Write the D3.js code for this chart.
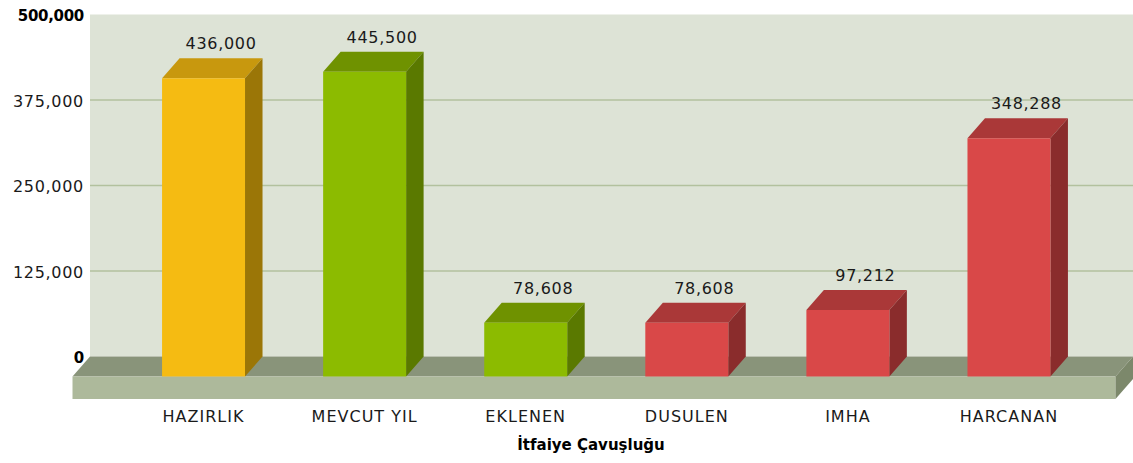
<!DOCTYPE html>
<html>
<head>
<meta charset="utf-8">
<script src="https://cdn.jsdelivr.net/npm/d3@7"></script>
<style>
  body { margin: 0; background: #fff; }
  svg { display: block; font-family: "DejaVu Sans", Verdana, sans-serif; }
</style>
</head>
<body>
<svg id="chart" width="1133" height="463"></svg>
<script>
"use strict";

// data
const categories = ["HAZIRLIK", "MEVCUT YIL", "EKLENEN", "DUSULEN", "IMHA", "HARCANAN"];
const values = [436000, 445500, 78608, 78608, 97212, 348288];
const kinds = ["gold", "green", "green", "red", "red", "red"];
const yTicks = [0, 125000, 250000, 375000, 500000];
const title = "İtfaiye Çavuşluğu";

// colours for the three faces of each bar
const palette = {
  gold:  { front: "#f5bb12", top: "#c8980e", side: "#9b7607" },
  green: { front: "#8cbb00", top: "#6f9200", side: "#5a7900" },
  red:   { front: "#d94848", top: "#aa3838", side: "#8a2c2c" }
};

const svg = d3.select("#chart");
const fmt = d3.format(",");

// depth of the 3D effect (back is up and right of the front)
const dx = 17.5, dy = 20;
const wallLeft = 90, wallRight = 1133;

const y = d3.scaleLinear().domain([0, 500000]).range([356.5, 14.5]);
const x = d3.scaleBand()
  .domain(categories)
  .range([123, 1089.5])
  .paddingInner(0.485)
  .paddingOuter(0.2425);

// back wall
svg.append("rect")
  .attr("x", wallLeft).attr("y", y(500000))
  .attr("width", wallRight - wallLeft).attr("height", y(0) - y(500000))
  .attr("fill", "#dde3d6");

// grid lines
svg.append("g")
  .selectAll("line")
  .data(yTicks.filter(d => d > 0 && d < 500000))
  .enter()
  .append("line")
  .attr("x1", wallLeft).attr("x2", wallRight)
  .attr("y1", d => y(d)).attr("y2", d => y(d))
  .attr("stroke", "#b2c19e")
  .attr("stroke-width", 1.6);

// floor
const fy0 = y(0), fy1 = y(0) + dy, floorH = 22.5;
const fl = wallLeft - dx, fr = wallRight - dx;
svg.append("path")
  .attr("d", `M${fl},${fy1}L${wallLeft},${fy0}L${wallRight},${fy0}L${fr},${fy1}Z`)
  .attr("fill", "#89947a");
svg.append("rect")
  .attr("x", fl).attr("y", fy1)
  .attr("width", fr - fl).attr("height", floorH)
  .attr("fill", "#adb99b");
svg.append("path")
  .attr("d", `M${fr},${fy1}L${wallRight},${fy0}L${wallRight},${fy0 + floorH}L${fr},${fy1 + floorH}Z`)
  .attr("fill", "#7c886b");

// bars
const bars = svg.append("g")
  .selectAll("g")
  .data(categories)
  .enter()
  .append("g");

bars.each(function(c, i) {
  const g = d3.select(this);
  const col = palette[kinds[i]];
  const x0 = x(c), w = x.bandwidth();
  const top = y(values[i]) + dy, bottom = y(0) + dy;
  g.append("path")
    .attr("d", `M${x0},${top}L${x0 + dx},${top - dy}L${x0 + w + dx},${top - dy}L${x0 + w},${top}Z`)
    .attr("fill", col.top);
  g.append("path")
    .attr("d", `M${x0 + w},${top}L${x0 + w + dx},${top - dy}L${x0 + w + dx},${bottom - dy}L${x0 + w},${bottom}Z`)
    .attr("fill", col.side);
  g.append("rect")
    .attr("x", x0).attr("y", top)
    .attr("width", w).attr("height", bottom - top)
    .attr("fill", col.front);
  g.append("text")
    .attr("x", x0 + w / 2 + dx)
    .attr("y", y(values[i]) - 9)
    .attr("text-anchor", "middle")
    .style("font-size", "16px")
    .style("letter-spacing", "0.7px")
    .attr("fill", "#1a1a1a")
    .text(fmt(values[i]));
});

// y axis labels
const yAxis = d3.axisLeft(y)
  .tickValues(yTicks)
  .tickSize(0)
  .tickPadding(0)
  .tickFormat(fmt);
const ya = svg.append("g")
  .attr("transform", `translate(${wallLeft - 6},1)`)
  .call(yAxis)
  .attr("font-family", null)
  .attr("font-size", null);
ya.select(".domain").remove();
ya.selectAll("text")
  .style("font-family", "'DejaVu Sans', Verdana, sans-serif")
  .style("font-size", "16px")
  .style("letter-spacing", "0.7px")
  .attr("fill", "#1a1a1a");
ya.selectAll(".tick")
  .filter(d => d === 0 || d === 500000)
  .select("text")
  .style("font-size", "15px")
  .style("font-weight", "bold")
  .style("letter-spacing", "-0.3px")
  .attr("fill", "#000");

// x axis labels
svg.append("g")
  .selectAll("text")
  .data(categories)
  .enter()
  .append("text")
  .attr("x", d => x(d) + x.bandwidth() / 2)
  .attr("y", 421.5)
  .attr("text-anchor", "middle")
  .style("font-size", "16px")
  .style("letter-spacing", "1px")
  .attr("fill", "#1a1a1a")
  .text(d => d);

// axis title
svg.append("text")
  .attr("x", 591)
  .attr("y", 450)
  .attr("text-anchor", "middle")
  .style("font-size", "15px")
  .style("font-weight", "bold")
  .attr("fill", "#000")
  .text(title);
</script>
</body>
</html>
